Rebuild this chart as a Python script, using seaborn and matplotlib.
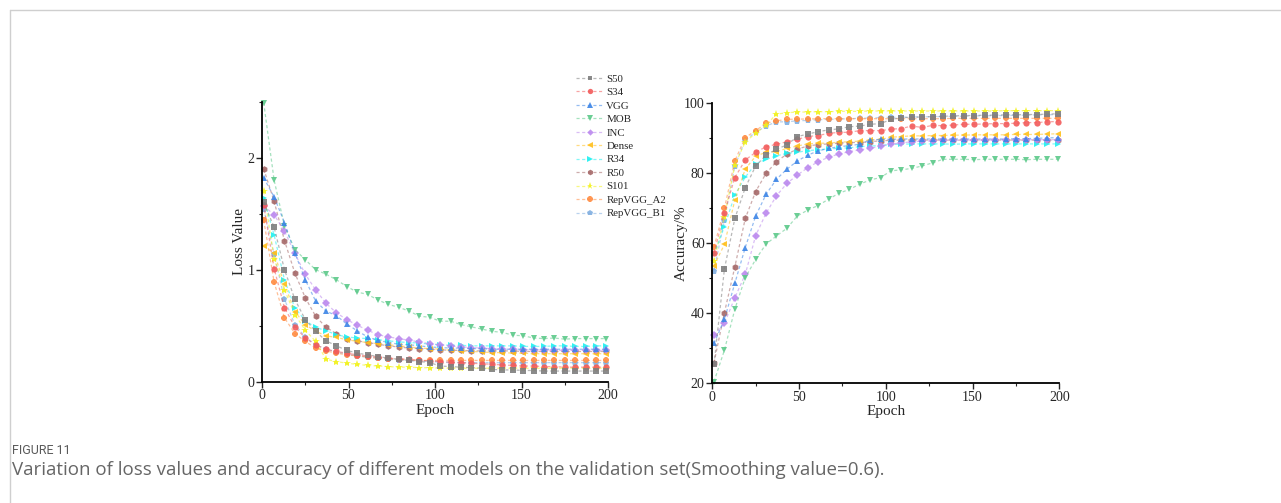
import matplotlib
matplotlib.use('Agg')
import numpy as np
import pandas as pd
import seaborn as sns
import matplotlib.pyplot as plt
from matplotlib.lines import Line2D
from matplotlib.colors import to_rgba
from matplotlib.ticker import MultipleLocator

# epochs where the (smoothed) curves are sampled / marked
epochs = np.arange(1, 200, 6)

models = ['S50', 'S34', 'VGG', 'MOB', 'INC', 'Dense', 'R34', 'R50', 'S101', 'RepVGG_A2', 'RepVGG_B1']

# validation loss
loss_s50 = [1.60, 1.38, 1.00, 0.735, 0.555, 0.45, 0.365, 0.32, 0.28, 0.255,
            0.24, 0.225, 0.21, 0.20, 0.19, 0.18, 0.17, 0.14, 0.135, 0.13,
            0.125, 0.12, 0.11, 0.105, 0.105, 0.10, 0.10, 0.095, 0.095, 0.095,
            0.095, 0.095, 0.095, 0.095]
loss_s34 = [1.58, 1.01, 0.66, 0.49, 0.39, 0.33, 0.29, 0.27, 0.255, 0.24,
            0.23, 0.22, 0.21, 0.205, 0.20, 0.19, 0.185, 0.18, 0.175, 0.17,
            0.165, 0.16, 0.155, 0.15, 0.145, 0.14, 0.14, 0.135, 0.135, 0.13,
            0.13, 0.13, 0.13, 0.13]
loss_vgg = [1.82, 1.65, 1.42, 1.15, 0.91, 0.72, 0.63, 0.59, 0.515, 0.455,
            0.40, 0.37, 0.35, 0.335, 0.33, 0.32, 0.31, 0.305, 0.30, 0.30,
            0.295, 0.295, 0.29, 0.29, 0.29, 0.29, 0.29, 0.29, 0.29, 0.29,
            0.29, 0.29, 0.29, 0.29]
loss_mob = [2.49, 1.80, 1.39, 1.18, 1.09, 1.00, 0.96, 0.91, 0.85, 0.80,
            0.78, 0.73, 0.69, 0.665, 0.63, 0.585, 0.575, 0.54, 0.54, 0.51,
            0.49, 0.47, 0.45, 0.44, 0.415, 0.41, 0.39, 0.385, 0.39, 0.38,
            0.385, 0.385, 0.385, 0.385]
loss_inc = [1.57, 1.49, 1.345, 1.145, 0.96, 0.82, 0.70, 0.615, 0.555, 0.505,
            0.46, 0.42, 0.40, 0.385, 0.37, 0.355, 0.34, 0.33, 0.32, 0.31,
            0.305, 0.30, 0.295, 0.29, 0.29, 0.285, 0.285, 0.285, 0.28, 0.28,
            0.28, 0.28, 0.28, 0.28]
loss_dense = [1.21, 1.15, 0.87, 0.625, 0.51, 0.45, 0.41, 0.395, 0.375, 0.36,
              0.35, 0.34, 0.33, 0.32, 0.31, 0.30, 0.295, 0.29, 0.28, 0.275,
              0.27, 0.265, 0.26, 0.26, 0.255, 0.255, 0.25, 0.25, 0.25, 0.25,
              0.25, 0.25, 0.25, 0.25]
loss_r34 = [1.64, 1.31, 0.91, 0.66, 0.545, 0.485, 0.455, 0.42, 0.40, 0.39,
            0.385, 0.375, 0.365, 0.355, 0.35, 0.345, 0.335, 0.33, 0.325, 0.325,
            0.32, 0.32, 0.32, 0.32, 0.32, 0.315, 0.315, 0.315, 0.32, 0.32,
            0.315, 0.315, 0.32, 0.32]
loss_r50 = [1.90, 1.61, 1.26, 0.97, 0.75, 0.585, 0.485, 0.43, 0.385, 0.365,
            0.35, 0.335, 0.32, 0.31, 0.30, 0.295, 0.29, 0.285, 0.28, 0.28,
            0.275, 0.275, 0.275, 0.275, 0.275, 0.27, 0.27, 0.27, 0.27, 0.27,
            0.27, 0.27, 0.27, 0.27]
loss_s101 = [1.70, 1.10, 0.82, 0.60, 0.46, 0.36, 0.20, 0.18, 0.165, 0.155,
             0.145, 0.14, 0.135, 0.13, 0.13, 0.125, 0.125, 0.12, 0.12, 0.12,
             0.12, 0.12, 0.12, 0.12, 0.12, 0.12, 0.12, 0.12, 0.12, 0.12,
             0.12, 0.12, 0.12, 0.12]
loss_a2 = [1.44, 0.89, 0.57, 0.43, 0.36, 0.30, 0.275, 0.255, 0.24, 0.23,
           0.22, 0.21, 0.205, 0.20, 0.195, 0.19, 0.19, 0.19, 0.19, 0.19,
           0.19, 0.19, 0.19, 0.19, 0.19, 0.19, 0.19, 0.19, 0.19, 0.19,
           0.19, 0.19, 0.19, 0.19]
loss_b1 = [1.54, 1.14, 0.735, 0.51, 0.40, 0.33, 0.29, 0.265, 0.245, 0.23,
           0.22, 0.21, 0.20, 0.195, 0.19, 0.185, 0.18, 0.175, 0.17, 0.17,
           0.17, 0.17, 0.17, 0.17, 0.17, 0.17, 0.17, 0.17, 0.17, 0.17,
           0.17, 0.17, 0.17, 0.17]

# validation accuracy (%)
acc_s50 = [25.5, 52.7, 67.1, 75.9, 82.1, 85.2, 86.9, 88.1, 90.5, 91.2,
           91.9, 92.4, 92.7, 93.3, 93.5, 94.0, 94.2, 95.4, 95.9, 96.0,
           96.1, 96.2, 96.3, 96.4, 96.5, 96.5, 96.6, 96.6, 96.7, 96.7,
           96.8, 96.8, 96.9, 97.0]
acc_s34 = [57.2, 68.8, 78.8, 83.8, 86.0, 87.6, 88.3, 89.0, 89.7, 90.5,
           90.8, 91.4, 91.7, 91.7, 92.2, 92.2, 92.2, 92.6, 92.8, 93.5,
           93.1, 93.7, 93.6, 93.8, 94.0, 94.0, 94.1, 94.2, 94.2, 94.3,
           94.5, 94.5, 94.7, 94.8]
acc_vgg = [31.4, 38.3, 48.6, 58.8, 67.8, 74.0, 78.3, 81.2, 83.5, 85.2,
           86.4, 87.1, 87.6, 87.9, 88.3, 89.5, 89.7, 89.7, 89.8, 89.8,
           89.8, 89.8, 89.8, 89.8, 89.8, 89.8, 89.8, 89.8, 89.8, 89.9,
           89.9, 90.0, 90.1, 90.2]
acc_mob = [20.5, 29.5, 41.2, 50.2, 55.4, 59.8, 62.1, 64.3, 67.8, 69.5,
           70.8, 72.6, 74.3, 75.4, 76.9, 78.1, 78.8, 80.7, 81.0, 81.4,
           82.1, 83.0, 84.0, 84.0, 84.0, 83.9, 84.0, 84.0, 84.0, 84.0,
           83.9, 84.0, 84.0, 84.0]
acc_inc = [33.8, 37.1, 44.5, 51.1, 62.2, 68.6, 73.6, 77.1, 79.5, 81.6,
           83.3, 84.6, 85.5, 86.2, 86.7, 87.1, 87.8, 88.3, 88.7, 89.0,
           89.2, 89.3, 89.4, 89.4, 89.5, 89.5, 89.5, 89.5, 89.6, 89.6,
           89.6, 89.6, 89.6, 89.6]
acc_dense = [53.6, 59.7, 72.4, 81.2, 84.9, 86.0, 86.2, 87.1, 87.8, 88.4,
             88.6, 88.6, 88.9, 89.0, 89.2, 89.5, 89.7, 90.3, 90.5, 90.7,
             90.7, 90.8, 90.8, 90.9, 90.9, 91.0, 91.0, 91.0, 91.0, 91.1,
             91.1, 91.1, 91.2, 91.3]
acc_r34 = [56.9, 64.8, 73.8, 78.9, 82.7, 84.0, 85.0, 85.7, 86.0, 86.5,
           86.7, 87.0, 87.1, 87.3, 87.6, 87.8, 87.9, 88.3, 88.3, 88.4,
           88.4, 88.4, 88.4, 88.3, 88.4, 88.4, 88.4, 88.4, 88.4, 88.4,
           88.4, 88.4, 88.4, 88.4]
acc_r50 = [25.9, 40.2, 53.3, 67.1, 74.8, 80.0, 83.3, 85.5, 86.9, 87.8,
           88.2, 88.4, 88.6, 88.8, 88.8, 89.0, 89.3, 89.4, 89.5, 89.5,
           89.5, 89.5, 89.5, 89.5, 89.5, 89.5, 89.5, 89.5, 89.5, 89.5,
           89.5, 89.5, 89.5, 89.5]
acc_s101 = [55.0, 67.6, 82.4, 89.0, 91.4, 93.8, 96.9, 97.3, 97.5, 97.5,
            97.6, 97.6, 97.7, 97.7, 97.7, 97.8, 97.8, 97.8, 97.8, 97.8,
            97.8, 97.8, 97.8, 97.8, 97.8, 97.8, 97.8, 97.8, 97.9, 97.9,
            97.9, 97.9, 97.9, 97.9]
acc_a2 = [59.0, 70.0, 83.6, 90.2, 92.2, 94.3, 95.0, 95.4, 95.5, 95.5,
          95.6, 95.6, 95.6, 95.6, 95.6, 95.6, 95.6, 95.6, 95.6, 95.6,
          95.6, 95.6, 95.6, 95.7, 95.7, 95.7, 95.7, 95.7, 95.7, 95.7,
          95.7, 95.7, 95.7, 95.7]
acc_b1 = [52.2, 66.7, 82.1, 89.5, 91.7, 93.5, 94.7, 94.7, 95.0, 95.1,
          95.3, 95.4, 95.5, 95.6, 95.7, 95.8, 95.9, 96.0, 96.0, 96.1,
          96.1, 96.2, 96.2, 96.3, 96.3, 96.4, 96.4, 96.5, 96.5, 96.6,
          96.6, 96.7, 96.7, 96.8]

loss_vals = [loss_s50, loss_s34, loss_vgg, loss_mob, loss_inc, loss_dense,
             loss_r34, loss_r50, loss_s101, loss_a2, loss_b1]
acc_vals = [acc_s50, acc_s34, acc_vgg, acc_mob, acc_inc, acc_dense,
            acc_r34, acc_r50, acc_s101, acc_a2, acc_b1]

colors = {'S50': '#7f7f7f', 'S34': '#f25a5a', 'VGG': '#3d85e6', 'MOB': '#5cc98a',
          'INC': '#bb88ee', 'Dense': '#ffbf1a', 'R34': '#1ff0f0', 'R50': '#a56868',
          'S101': '#f2f21a', 'RepVGG_A2': '#ff8c42', 'RepVGG_B1': '#80aee0'}
markers = {'S50': 's', 'S34': 'o', 'VGG': '^', 'MOB': 'v', 'INC': 'D', 'Dense': '<',
           'R34': '>', 'R50': 'h', 'S101': '*', 'RepVGG_A2': '8', 'RepVGG_B1': 'p'}
msizes = {'S50': 4, 'S34': 4.5, 'VGG': 4.5, 'MOB': 4.5, 'INC': 3.8, 'Dense': 4.5,
          'R34': 4.5, 'R50': 4.8, 'S101': 6, 'RepVGG_A2': 4.8, 'RepVGG_B1': 4.8}

rows = []
for m, lv, av in zip(models, loss_vals, acc_vals):
    for e, l, a in zip(epochs, lv, av):
        rows.append({'Model': m, 'Epoch': e, 'Loss': l, 'Acc': a})
df = pd.DataFrame(rows)

sns.set_style('ticks')
plt.rcParams['font.family'] = ['Liberation Serif', 'DejaVu Serif']

fig = plt.figure(figsize=(12.81, 5.03), dpi=100)
ax1 = fig.add_axes([262 / 1281, 1 - 381.7 / 503, 346 / 1281, 280 / 503])
ax2 = fig.add_axes([712.3 / 1281, 1 - 383.3 / 503, 347 / 1281, 280 / 503])

for ax, col in [(ax1, 'Loss'), (ax2, 'Acc')]:
    # reverse order so the first models sit on top like the original
    for m in models[::-1]:
        sub = df[df['Model'] == m]
        sns.lineplot(data=sub, x='Epoch', y=col, ax=ax, color=colors[m],
                     marker=markers[m], markersize=msizes[m], markeredgewidth=0,
                     linewidth=0.9, errorbar=None, legend=False)
        ln = ax.lines[-1]
        ln.set_dashes((2.5, 2.0))
        ln.set_color(to_rgba(colors[m], 0.55))
        ln.set_markerfacecolor(to_rgba(colors[m], 0.9))
        ln.set_markeredgecolor(to_rgba(colors[m], 0.9))
        ln.set_clip_on(False)
    sns.despine(ax=ax)
    for s in ['left', 'bottom']:
        ax.spines[s].set_linewidth(1.3)
        ax.spines[s].set_color('black')
    ax.set_xlim(0, 200)
    ax.xaxis.set_major_locator(MultipleLocator(50))
    ax.xaxis.set_minor_locator(MultipleLocator(25))
    ax.tick_params(which='major', direction='out', length=4, width=1, labelsize=10, pad=1.5)
    ax.tick_params(which='minor', direction='out', length=2.5, width=0.8)
    ax.set_xlabel('Epoch', fontsize=11, labelpad=1)

ax1.set_ylim(0, 2.5)
ax1.yaxis.set_major_locator(MultipleLocator(1))
ax1.yaxis.set_minor_locator(MultipleLocator(0.5))
ax1.set_ylabel('Loss Value', fontsize=11, labelpad=1)

ax2.set_ylim(20, 100)
ax2.yaxis.set_major_locator(MultipleLocator(20))
ax2.yaxis.set_minor_locator(MultipleLocator(10))
ax2.set_ylabel('Accuracy/%', fontsize=11, labelpad=-3)

handles = [Line2D([], [], color=to_rgba(colors[m], 0.55), dashes=(2.5, 2.0), linewidth=0.9,
                  marker=markers[m], markersize=msizes[m] * 0.85, markeredgewidth=0,
                  markerfacecolor=to_rgba(colors[m], 0.9)) for m in models]
fig.legend(handles, models, loc='upper left', bbox_to_anchor=(576 / 1281, 1 - 74 / 503),
           frameon=False, fontsize=7.8, handlelength=2.6, handletextpad=0.2,
           labelspacing=0.36, borderpad=0, borderaxespad=0)

# page frame and caption
fig.add_artist(Line2D([10 / 1281, 1], [1 - 10 / 503, 1 - 10 / 503], transform=fig.transFigure,
                      color='#cfcfcf', linewidth=1))
fig.add_artist(Line2D([10 / 1281, 10 / 1281], [1 - 10 / 503, 0], transform=fig.transFigure,
                      color='#cfcfcf', linewidth=1))
fig.text(12 / 1281, 1 - 450 / 503, 'FIGURE 11', fontsize=9, color='#5a5a5a',
         family=['Roboto', 'DejaVu Sans'], va='center', ha='left')
fig.text(12 / 1281, 1 - 470 / 503,
         'Variation of loss values and accuracy of different models on the validation set(Smoothing value=0.6).',
         fontsize=13.5, color='#666666', family=['Open Sans', 'DejaVu Sans'], va='center', ha='left')

fig.savefig('out.png', dpi=100)
